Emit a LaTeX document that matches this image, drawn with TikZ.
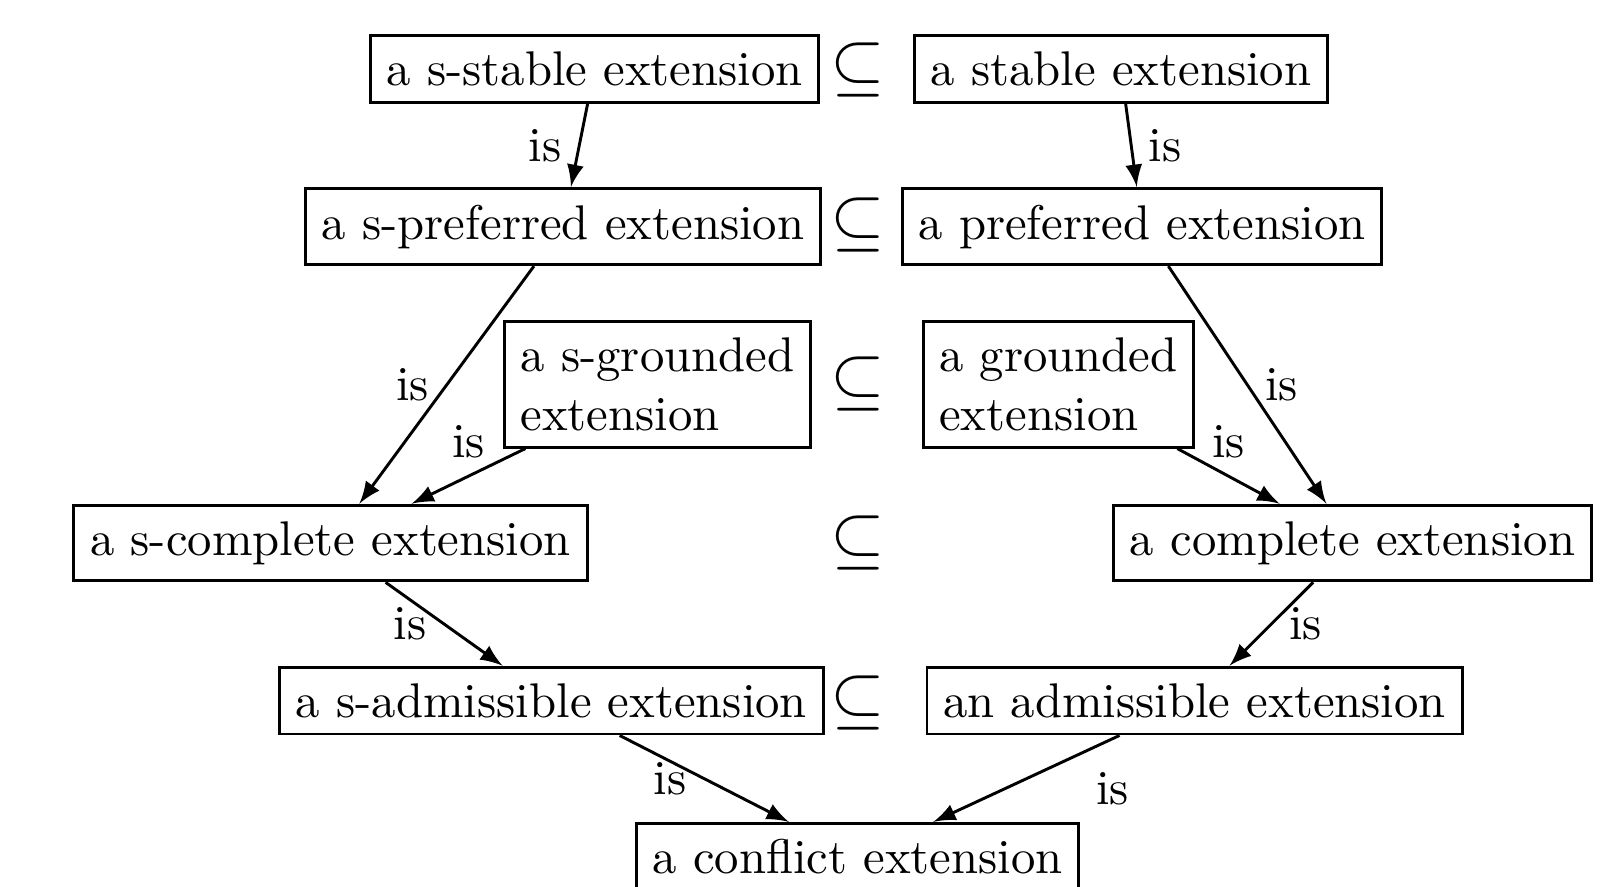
\documentclass[tikz,border=0pt]{standalone}
\usepackage{tikz}
\usetikzlibrary{arrows}

\begin{document}
\begin{tikzpicture}[>=latex,
	ext/.style={draw, semithick, inner sep=3.33pt},
	isarrow/.style={->, semithick},
	sub/.style={inner sep=0pt, font=\Large}]
			%%%%% START %%%%%
			\useasboundingbox (0, 0) rectangle (11.655, -6.394);
			
			% semi-stable side
			\node[ext] (sstable) at (4.291, -0.498) {a s-stable extension};
			\node[ext] (spref) at (4.063, -1.635) {a s-preferred extension};
			\node[ext, align=left] (sgrnd) at (4.745, -2.775) {a s-grounded\\extension};
			\node[ext] (scompl) at (2.385, -3.919) {a s-complete extension};
			\node[ext] (sadm) at (3.980, -5.056) {a s-admissible extension};
			
			% classical side
			\node[ext] (stable) at (8.090, -0.498) {a stable extension};
			\node[ext] (pref) at (8.242, -1.635) {a preferred extension};
			\node[ext, align=left] (grnd) at (7.639, -2.775) {a grounded\\extension};
			\node[ext] (compl) at (9.761, -3.919) {a complete extension};
			\node[ext] (adm) at (8.621, -5.056) {an admissible extension};
			
			\node[ext] (confl) at (6.189, -6.185) {a conflict extension};
			
			% subset signs
			\node[sub] (sub1) at (6.189, -0.502) {$\subseteq$};
			\node[sub] (sub2) at (6.189, -1.620) {$\subseteq$};
			\node[sub] (sub3) at (6.189, -2.772) {$\subseteq$};
			\node[sub] (sub4) at (6.189, -3.919) {$\subseteq$};
			\node[sub] (sub5) at (6.189, -5.070) {$\subseteq$};
			
			% is-arrows
			\draw[isarrow] (sstable) -- node[left] {is} (spref);
			\draw[isarrow] (stable) -- node[right] {is} (pref);
			\draw[isarrow] (spref) -- node[left] {is} (scompl);
			\draw[isarrow] (sgrnd) -- node[above] {is} (scompl);
			\draw[isarrow] (pref) -- node[right] {is} (compl);
			\draw[isarrow] (grnd) -- node[above] {is} (compl);
			\draw[isarrow] (scompl) -- node[left] {is} (sadm);
			\draw[isarrow] (compl) -- node[right] {is} (adm);
			\draw[isarrow] (sadm) -- node[left] {is} (confl);
			\draw[isarrow] (adm) -- node[below right, pos=0.22] {is} (confl);
			
			%%%%% END %%%%%
\end{tikzpicture}
\end{document}
